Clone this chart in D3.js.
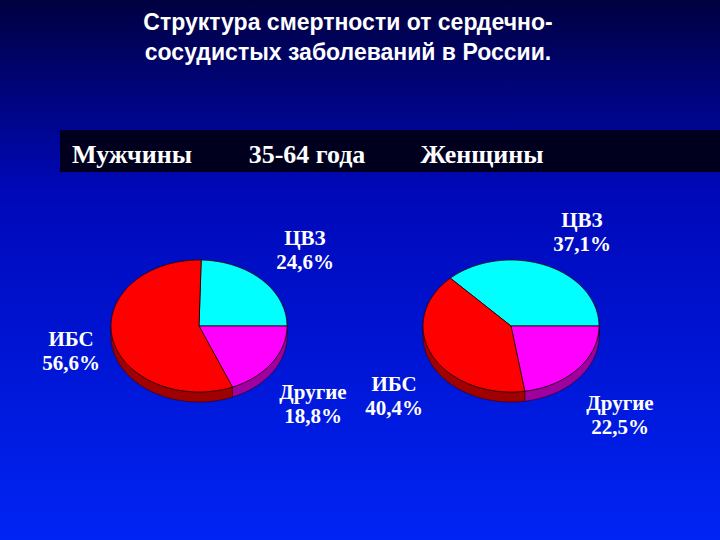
<!DOCTYPE html>
<html><head><meta charset="utf-8">
<script src="https://cdn.jsdelivr.net/npm/d3@7"></script>
<style>body{margin:0}svg{display:block}</style>
</head><body>
<svg id="c" width="720" height="540"></svg>
<script>
const categories = ["ЦВЗ", "Другие", "ИБС"];
const menValues = [24.6, 18.8, 56.6];
const womenValues = [37.1, 22.5, 40.4];
const menLabels = ["ЦВЗ\n24,6%", "Другие\n18,8%", "ИБС\n56,6%"];
const womenLabels = ["ЦВЗ\n37,1%", "Другие\n22,5%", "ИБС\n40,4%"];
const groupLabels = ["Мужчины", "35-64 года", "Женщины"];

const topColors = {"ЦВЗ": "#00ffff", "Другие": "#ff00ff", "ИБС": "#ff0000"};
const sideColors = {"ЦВЗ": "#009999", "Другие": "#a000a0", "ИБС": "#a00000"};

const svg = d3.select("#c");
const defs = svg.append("defs");
const grad = defs.append("linearGradient").attr("id", "bg").attr("x1", 0).attr("y1", 0).attr("x2", 0).attr("y2", 1);
grad.append("stop").attr("offset", "0%").attr("stop-color", "#000040");
grad.append("stop").attr("offset", "35%").attr("stop-color", "#0008b8");
grad.append("stop").attr("offset", "100%").attr("stop-color", "#0024f4");
svg.append("rect").attr("width", 720).attr("height", 540).attr("fill", "url(#bg)");

svg.append("text").attr("x", 348).attr("y", 30).attr("text-anchor", "middle")
  .style("font-family", "Liberation Sans, Arial").style("font-weight", "bold").style("font-size", "23px")
  .attr("fill", "#fff")
  .selectAll("tspan").data(["Структура смертности от сердечно-", "сосудистых заболеваний  в России."])
  .join("tspan").attr("x", 348).attr("dy", (d, i) => i ? 30 : 0).text(d => d);

svg.append("rect").attr("x", 60).attr("y", 130).attr("width", 660).attr("height", 42).attr("fill", "#00001e");
const bandX = d3.scalePoint().domain(groupLabels).range([132, 482]);
svg.selectAll(".grp").data(groupLabels).join("text")
  .attr("x", d => bandX(d)).attr("y", 163).attr("text-anchor", "middle")
  .style("font-family", "Liberation Serif, Times New Roman").style("font-size", "26px").style("font-weight", "bold")
  .attr("fill", "#fff").text(d => d);

function drawPie(cx, cy, values, labels, labelPos) {
  const rx = 88, ry = 66, depth = 10;
  const cyanAngle = values[0] / 100 * 2 * Math.PI;
  const start = Math.PI / 2 - cyanAngle;
  const arcs = d3.pie().sort(null).startAngle(start).endAngle(start + 2 * Math.PI)(values);
  const pt = (a, dy = 0) => [cx + rx * Math.sin(a), cy - ry * Math.cos(a) + dy];
  const g = svg.append("g");
  arcs.forEach((d, i) => {
    const segs = [[Math.max(d.startAngle, Math.PI / 2), Math.min(d.endAngle, 3 * Math.PI / 2)],
      [Math.max(d.startAngle, Math.PI / 2 + 2 * Math.PI), Math.min(d.endAngle, 3 * Math.PI / 2 + 2 * Math.PI)]];
    segs.forEach(([s, e]) => {
      if (e <= s) return;
      const pts = d3.range(s, e, 0.02).concat([e]);
      const top = pts.map(a => pt(a));
      const bot = pts.slice().reverse().map(a => pt(a, depth));
      g.append("path").attr("d", d3.line()(top.concat(bot)) + "Z")
        .attr("fill", sideColors[categories[i]]).attr("stroke", "#300").attr("stroke-width", 0.6);
    });
  });
  arcs.forEach((d, i) => {
    const pts = d3.range(d.startAngle, d.endAngle, 0.02).concat([d.endAngle]).map(a => pt(a));
    g.append("path").attr("d", d3.line()([[cx, cy]].concat(pts)) + "Z")
      .attr("fill", topColors[categories[i]]).attr("stroke", "#200").attr("stroke-width", 0.8);
  });
  labels.forEach((t, i) => {
    const [lx, ly] = labelPos[i];
    svg.append("text").attr("text-anchor", "middle")
      .style("font-family", "Liberation Serif, Times New Roman").style("font-size", "21px").style("font-weight", "bold")
      .attr("fill", "#fff")
      .selectAll("tspan").data(t.split("\n")).join("tspan")
      .attr("x", lx).attr("y", (d, k) => ly + k * 24).text(d => d);
  });
}

drawPie(199, 326, menValues, menLabels, [[305, 245], [313, 399], [71, 346]]);
drawPie(511, 326, womenValues, womenLabels, [[582, 227], [620, 410], [394, 391]]);
</script>
</body></html>
